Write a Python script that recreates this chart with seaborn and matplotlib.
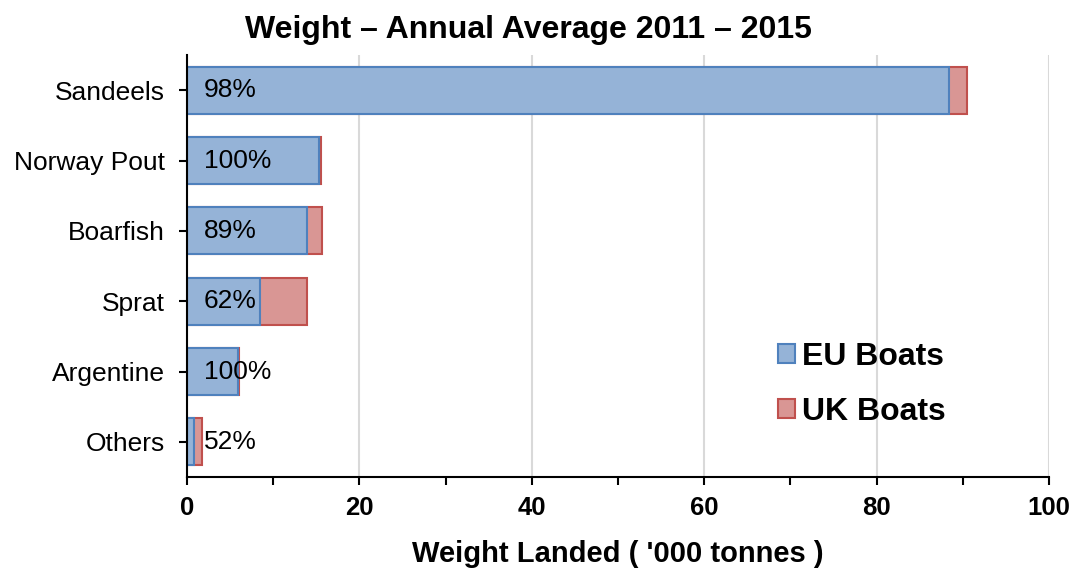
import matplotlib
matplotlib.use("Agg")
import matplotlib.pyplot as plt
from matplotlib.patches import Patch
from matplotlib.ticker import MultipleLocator
import seaborn as sns
import pandas as pd

# values ('000 tonnes)
species = ["Sandeels", "Norway Pout", "Boarfish", "Sprat", "Argentine", "Others"]
eu_boats = [88.4, 15.3, 13.9, 8.5, 5.9, 0.85]
uk_boats = [2.1, 0.2, 1.8, 5.4, 0.1, 0.93]
share_labels = ["98%", "100%", "89%", "62%", "100%", "52%"]

df = pd.DataFrame({"species": species, "eu": eu_boats, "uk": uk_boats})
df["total"] = df["eu"] + df["uk"]

sns.set_style("white")
plt.rcParams["font.family"] = ["Liberation Sans", "DejaVu Sans"]
plt.rcParams["text.color"] = "black"
plt.rcParams["xtick.color"] = "black"
plt.rcParams["ytick.color"] = "black"
plt.rcParams["axes.labelcolor"] = "black"

eu_fill, eu_edge = "#95B3D7", "#4F81BD"
uk_fill, uk_edge = "#D99694", "#C0504D"

fig = plt.figure(figsize=(10.74, 5.69), dpi=100)
ax = fig.add_axes([0.1741, 0.1617, 0.8026, 0.7416])

# totals first (UK part shows past EU), EU on top
sns.barplot(data=df, x="total", y="species", order=species, color=uk_fill,
            edgecolor=uk_edge, linewidth=1.5, width=0.67, saturation=1, ax=ax)
sns.barplot(data=df, x="eu", y="species", order=species, color=eu_fill,
            edgecolor=eu_edge, linewidth=1.5, width=0.67, saturation=1, ax=ax)

for i, lab in enumerate(share_labels):
    ax.annotate(lab, xy=(0, i), xytext=(12, 0), textcoords="offset points",
                ha="left", va="center", fontsize=19, color="black")

ax.set_xlim(0, 100)
ax.set_ylim(5.5, -0.5)
ax.xaxis.set_major_locator(MultipleLocator(20))
ax.xaxis.set_minor_locator(MultipleLocator(10))
ax.grid(axis="x", which="major", color="#D9D9D9", linewidth=1.5)
ax.set_axisbelow(True)

for s in ["top", "right"]:
    ax.spines[s].set_visible(False)
for s in ["left", "bottom"]:
    ax.spines[s].set_color("black")
    ax.spines[s].set_linewidth(1.5)

ax.tick_params(axis="x", which="both", direction="out", length=6, width=1.5,
               color="black", bottom=True, labelsize=18.5, pad=8)
ax.tick_params(axis="y", direction="out", length=6, width=1.5, color="black",
               left=True, labelsize=19, pad=10)
for t in ax.get_xticklabels():
    t.set_fontweight("bold")

ax.set_ylabel("")
ax.set_xlabel("Weight Landed ( '000 tonnes )", fontsize=21, fontweight="bold",
              labelpad=14)

fig.text(0.492, 0.948, "Weight \u2013 Annual Average 2011 \u2013 2015",
         ha="center", va="center", fontsize=23, fontweight="bold")

handles = [Patch(facecolor=eu_fill, edgecolor=eu_edge, linewidth=1.5, label="EU Boats"),
           Patch(facecolor=uk_fill, edgecolor=uk_edge, linewidth=1.5, label="UK Boats")]
leg = ax.legend(handles=handles, loc="center left", bbox_to_anchor=(0.652, 0.22),
                frameon=False, handlelength=0.55, handleheight=0.55, handletextpad=0.22,
                labelspacing=0.78, prop={"size": 23, "weight": "bold"})

fig.savefig("out.png", dpi=100)
